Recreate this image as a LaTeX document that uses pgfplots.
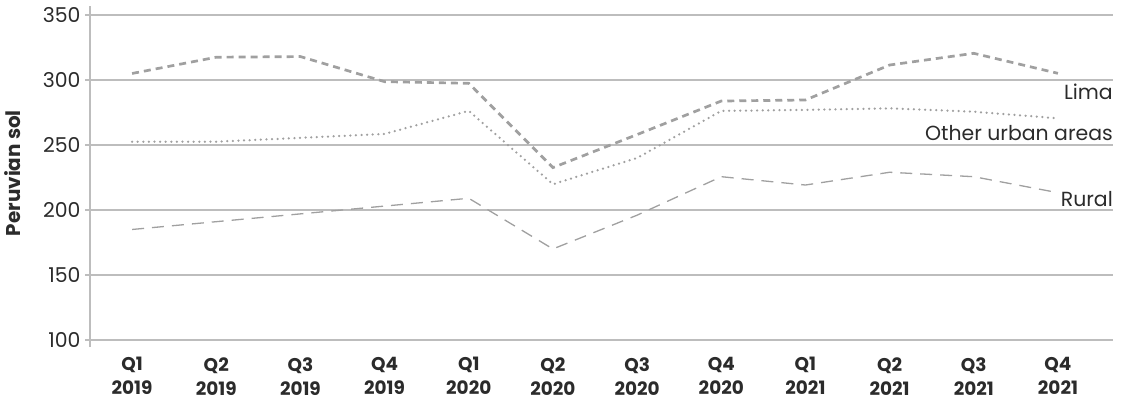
\documentclass[border=0pt]{standalone}
\usepackage{fontspec}
\setmainfont{Poppins}
\usepackage{pgfplots}
\pgfplotsset{compat=1.18}

\definecolor{gridgray}{HTML}{BDBDBD}
\definecolor{linegray}{HTML}{A0A0A0}
\definecolor{textdark}{HTML}{2B2B2B}

\pgfplotstableread{
x lima urban rural
0  305.0 252.5 185.0
1  317.5 252.5 191.0
2  318.0 255.5 197.0
3  298.7 258.5 203.0
4  297.4 276.2 209.0
5  232.6 219.8 170.0
6  258.0 240.0 196.0
7  283.8 276.2 225.6
8  284.6 277.0 219.2
9  311.5 278.2 229.0
10 320.5 275.6 225.6
11 305.1 270.5 213.3
}\datatable

\begin{document}
\begin{tikzpicture}
\begin{axis}[
    scale only axis,
    width=1023bp, height=341bp,
    xmin=-0.5, xmax=11.654,
    ymin=94.6, ymax=356.9,
    axis x line*=bottom,
    x axis line style={draw=none},
    axis y line*=left,
    y axis line style={gridgray, line width=1.2bp},
    ytick={100,150,...,350},
    ytick pos=left,
    tick align=outside,
    major tick length=5bp,
    ytick style={gridgray, line width=1.2bp},
    xtick style={draw=none},
    ymajorgrids,
    grid style={gridgray, line width=1.2bp},
    yticklabel style={font=\fontsize{20.5}{24}\selectfont, text=textdark, xshift=-1bp},
    /pgf/number format/assume math mode=true,
    xtick={0,...,11},
    xticklabels={{Q1\\2019},{Q2\\2019},{Q3\\2019},{Q4\\2019},{Q1\\2020},{Q2\\2020},{Q3\\2020},{Q4\\2020},{Q1\\2021},{Q2\\2021},{Q3\\2021},{Q4\\2021}},
    xticklabel style={font=\fontsize{18.5}{24}\selectfont\bfseries, text=textdark, align=center, yshift=-2bp},
    ylabel={Peruvian sol},
    ylabel style={font=\fontsize{20}{22}\selectfont\bfseries, text=textdark, at={(axis description cs:-0.0752,0.51)}, anchor=center},
    clip=false,
]
\addplot[linegray, line width=2.7bp, dash pattern=on 7bp off 5bp] table[x=x, y=lima] {\datatable};
\addplot[linegray, line width=2.5bp, line cap=round, dash pattern=on 0bp off 5.6bp] table[x=x, y=urban] {\datatable};
\addplot[linegray, line width=1.3bp, dash pattern=on 12bp off 8bp] table[x=x, y=rural] {\datatable};

\pgfplotsinvokeforeach{-0.5,0.5,...,11.5}{
  \draw[gridgray, line width=1.2bp] (axis cs:#1,100) ++(0,8bp) -- ++(0,-13bp);
}

\node[anchor=base east, inner sep=0pt, text=textdark, font=\fontsize{20.5}{24}\selectfont] at (axis cs:11.654,284.6) {Lima};
\node[anchor=base east, inner sep=0pt, text=textdark, font=\fontsize{20.5}{24}\selectfont] at (axis cs:11.654,253.8) {Other urban areas};
\node[anchor=base east, inner sep=0pt, text=textdark, font=\fontsize{20.5}{24}\selectfont] at (axis cs:11.654,202.3) {Rural};
\end{axis}
\pgfresetboundingbox
\path[use as bounding box] (-90bp,-56bp) rectangle (1034bp,347bp);
\end{tikzpicture}
\end{document}
